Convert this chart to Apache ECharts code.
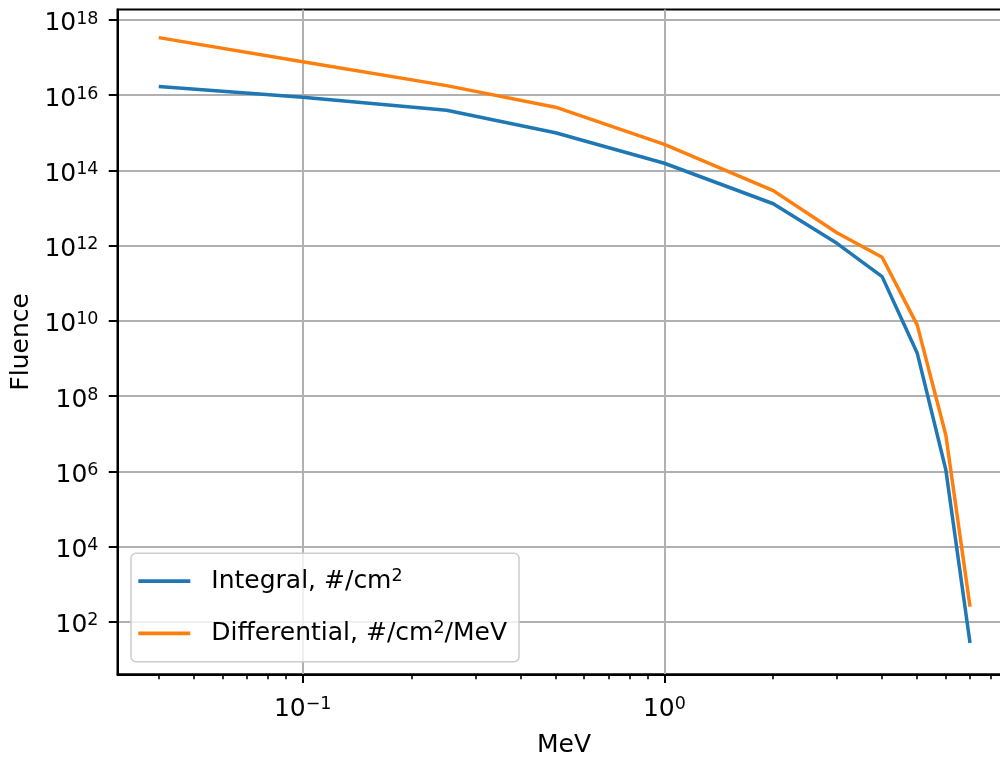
<!DOCTYPE html>
<html>
<head>
<meta charset="utf-8">
<script src="https://cdn.jsdelivr.net/npm/echarts@6/dist/echarts.min.js"></script>
<style>
  html, body { margin: 0; padding: 0; background: #ffffff; }
  #chart { width: 1000px; height: 758px; }
</style>
</head>
<body>
<div id="chart"></div>
<script>
// Electron energy grid, MeV
const energy = [0.04, 0.1, 0.25, 0.5, 1, 2, 3, 4, 5, 6, 7];
// Integral fluence, #/cm^2
const integral = [1.7e16, 8.8e15, 4.0e15, 1.0e15, 1.55e14, 1.3e13, 1.15e12, 1.5e11, 1.4e9, 1.1e6, 27];
// Differential fluence, #/cm^2/MeV
const differential = [3.4e17, 7.8e16, 1.8e16, 4.8e15, 4.9e14, 2.9e13, 2.2e12, 4.9e11, 7.8e9, 9.2e6, 250];

const seriesNames = ['Integral, #/cm2', 'Differential, #/cm2/MeV'];
const legendLabels = ['Integral, #/cm{s|2}', 'Differential, #/cm{s|2}/MeV'];
const seriesColors = ['#1f77b4', '#ff7f0e'];

// Tick positions (decades labelled, log-minor ticks on the energy axis)
const xMajorTicks = [0.1, 1];
const xMinorTicks = [0.04, 0.05, 0.06, 0.07, 0.08, 0.09, 0.2, 0.3, 0.4, 0.5, 0.6, 0.7, 0.8, 0.9, 2, 3, 4, 5, 6, 7, 8, 9];
const yMajorTicks = [1e2, 1e4, 1e6, 1e8, 1e10, 1e12, 1e14, 1e16, 1e18];

// Axis extents (decimal exponents)
const xExp = [-1.512, 0.957];
const yExp = [0.601, 18.279];

const FONT = 'DejaVu Sans';
const rich = {
  b: { fontFamily: FONT, fontSize: 25, lineHeight: 30, color: '#000' },
  s: { fontFamily: FONT, fontSize: 17.5, lineHeight: 20, padding: [0, 0, 10, 0], color: '#000' }
};

function powLabel(v) {
  const e = Math.round(Math.log10(v));
  const exp = e < 0 ? '\u2212' + (-e) : String(e);
  return '{b|10}{s|' + exp + '}';
}

function pairs(xs, ys) {
  return xs.map((x, i) => [x, ys[i]]);
}

const chart = echarts.init(document.getElementById('chart'), null, { renderer: 'canvas' });

chart.setOption({
  backgroundColor: '#ffffff',
  animation: false,
  grid: {
    left: 117.5, top: 9.5, right: -10.5, bottom: 83.7,
    show: true, borderColor: '#000', borderWidth: 2, backgroundColor: 'transparent',
    containLabel: false, outerBoundsMode: 'none'
  },
  legend: {
    left: 131, top: 553.3,
    orient: 'vertical',
    icon: 'rect',
    itemWidth: 52, itemHeight: 3.75,
    itemGap: 22.3,
    padding: [12.7, 12, 13.4, 7.3],
    backgroundColor: 'rgba(255,255,255,0.8)',
    borderColor: '#cccccc', borderWidth: 1.5, borderRadius: 5,
    selectedMode: false,
    data: seriesNames,
    formatter: name => legendLabels[seriesNames.indexOf(name)],
    textStyle: {
      fontFamily: FONT, fontSize: 25, lineHeight: 30, color: '#000',
      padding: [0, 0, 0, 16],
      rich: { s: rich.s }
    }
  },
  xAxis: [
    {
      type: 'log', logBase: 10,
      min: Math.pow(10, xExp[0]), max: Math.pow(10, xExp[1]),
      position: 'bottom',
      name: 'MeV', nameLocation: 'middle', nameGap: 59,
      nameTextStyle: { fontFamily: FONT, fontSize: 25, color: '#000' },
      axisLine: { show: true, lineStyle: { color: '#000', width: 2 } },
      axisTick: { show: true, length: 8.75, lineStyle: { color: '#000', width: 2 }, customValues: xMajorTicks },
      axisLabel: { show: true, margin: 20, customValues: xMajorTicks, formatter: powLabel, rich: rich },
      splitLine: { show: true, lineStyle: { color: '#b0b0b0', width: 2 } },
      minorTick: { show: false },
      minorSplitLine: { show: false }
    },
    {
      type: 'log', logBase: 10,
      min: Math.pow(10, xExp[0]), max: Math.pow(10, xExp[1]),
      position: 'bottom',
      axisLine: { show: false },
      axisTick: { show: true, length: 5, lineStyle: { color: '#000', width: 1.6 }, customValues: xMinorTicks },
      axisLabel: { show: false },
      splitLine: { show: false }
    }
  ],
  yAxis: {
    type: 'log', logBase: 10,
    min: Math.pow(10, yExp[0]), max: Math.pow(10, yExp[1]),
    position: 'left',
    name: 'Fluence', nameLocation: 'middle', nameGap: 84, nameRotate: 90,
    nameTextStyle: { fontFamily: FONT, fontSize: 25, color: '#000' },
    axisLine: { show: true, lineStyle: { color: '#000', width: 2 } },
    axisTick: { show: true, length: 8.75, lineStyle: { color: '#000', width: 2 }, customValues: yMajorTicks },
    axisLabel: { show: true, margin: 19, padding: [8, 0, 0, 0], customValues: yMajorTicks, formatter: powLabel, rich: rich },
    splitLine: { show: true, lineStyle: { color: '#b0b0b0', width: 2 } },
    minorTick: { show: false },
    minorSplitLine: { show: false }
  },
  series: [
    {
      name: seriesNames[0], type: 'line', xAxisIndex: 0,
      data: pairs(energy, integral),
      showSymbol: false, symbol: 'none',
      color: seriesColors[0],
      lineStyle: { color: seriesColors[0], width: 3.5 },
      itemStyle: { color: seriesColors[0] },
      z: 3
    },
    {
      name: seriesNames[1], type: 'line', xAxisIndex: 0,
      data: pairs(energy, differential),
      showSymbol: false, symbol: 'none',
      color: seriesColors[1],
      lineStyle: { color: seriesColors[1], width: 3.5 },
      itemStyle: { color: seriesColors[1] },
      z: 3
    }
  ]
});
</script>
</body>
</html>
